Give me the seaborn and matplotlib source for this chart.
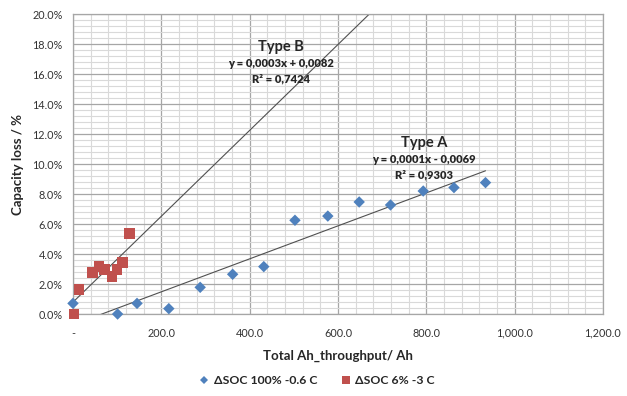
import numpy as np
import pandas as pd
import seaborn as sns
from matplotlib import pyplot as plt
from matplotlib.ticker import MultipleLocator, FuncFormatter

# data (x = Ah throughput, y = capacity loss in %)
soc100_x = [0, 101, 145, 217, 288, 361.5, 432, 502.6, 577, 648, 719, 793, 862.6, 934]
soc100_y = [0.71, 0.0, 0.71, 0.36, 1.78, 2.65, 3.16, 6.25, 6.53, 7.47, 7.27, 8.20, 8.43, 8.76]
soc6_x = [2, 14, 44, 59, 71, 88, 100, 112, 127.5]
soc6_y = [0.0, 1.63, 2.78, 3.18, 2.96, 2.51, 2.96, 3.42, 5.36]

series_names = ["\u0394SOC 100% -0.6 C", "\u0394SOC 6% -3 C"]
colors = ["#4F81BD", "#C0504D"]

eq_a = ["Type A", "y = 0,0001x - 0,0069", "R\u00b2 = 0,9303"]
eq_b = ["Type B", "y = 0,0003x + 0,0082", "R\u00b2 = 0,7424"]

df = pd.concat([
    pd.DataFrame({"x": soc100_x, "y": soc100_y, "series": series_names[0]}),
    pd.DataFrame({"x": soc6_x, "y": soc6_y, "series": series_names[1]}),
])

sns.set_style("white")
plt.rcParams['font.family'] = ['Lato', 'DejaVu Sans']

fig = plt.figure(figsize=(6.27, 3.96), dpi=100)
ax = fig.add_axes([0.1164, 0.207, 0.8453, 0.7576])

# gridlines like the excel chart
ax.xaxis.set_major_locator(MultipleLocator(200))
ax.xaxis.set_minor_locator(MultipleLocator(40))
ax.yaxis.set_major_locator(MultipleLocator(2))
ax.yaxis.set_minor_locator(MultipleLocator(0.4))
ax.grid(which="minor", color="#D9D9D9", lw=0.8)
ax.grid(which="major", color="#A6A6A6", lw=0.9)
ax.set_axisbelow(True)

# trendlines (linear fits of each series)
ka = np.polyfit(soc100_x, soc100_y, 1)
kb = np.polyfit(soc6_x, soc6_y, 1)
xa = np.linspace(0, max(soc100_x), 50)
xb = np.linspace(0, 800, 50)
ax.plot(xa, np.polyval(ka, xa), color="#505050", lw=0.8, zorder=2)
ax.plot(xb, np.polyval(kb, xb), color="#505050", lw=0.8, zorder=2)

sns.scatterplot(data=df, x="x", y="y", hue="series", style="series",
                palette=colors, markers=["D", "s"], size="series",
                sizes={series_names[0]: 34, series_names[1]: 58},
                linewidth=0, zorder=3, clip_on=False, ax=ax)

ax.set_xlim(0, 1200)
ax.set_ylim(0, 20)

ax.xaxis.set_major_formatter(FuncFormatter(lambda v, p: "-" if v == 0 else f"{v:,.1f}"))
ax.yaxis.set_major_formatter(FuncFormatter(lambda v, p: f"{v:.1f}%"))
ax.tick_params(axis="both", which="major", labelsize=7.8, colors="#333333", length=4,
               width=0.8, direction="out", color="#A6A6A6")
ax.tick_params(which="minor", length=0)
ax.tick_params(axis="x", pad=6)

for s in ax.spines.values():
    s.set_color("#A6A6A6")
    s.set_linewidth(0.9)

ax.set_xlabel("Total Ah_throughput/ Ah", fontsize=9.5, fontweight="bold", labelpad=8)
ax.set_ylabel("Capacity loss / %", fontsize=9.5, fontweight="bold", labelpad=6)

# trendline labels
for lines, (tx, ty) in [(eq_b, (471, 17.8)), (eq_a, (795, 11.4))]:
    ax.text(tx, ty, lines[0], ha="center", va="center", fontsize=10.5, fontweight="bold")
    ax.text(tx, ty - 1.1, lines[1], ha="center", va="center", fontsize=8, fontweight="heavy")
    ax.text(tx, ty - 2.15, lines[2], ha="center", va="center", fontsize=8, fontweight="heavy")

handles, labels = ax.get_legend_handles_labels()
ax.get_legend().remove()
fig.legend(handles, labels, loc="center", bbox_to_anchor=(0.5, 0.038), ncol=2, frameon=False,
           prop={"size": 8.8, "weight": "bold"}, handletextpad=-0.2, columnspacing=1.3,
           markerscale=0.75)

fig.savefig("out.png", dpi=100)
